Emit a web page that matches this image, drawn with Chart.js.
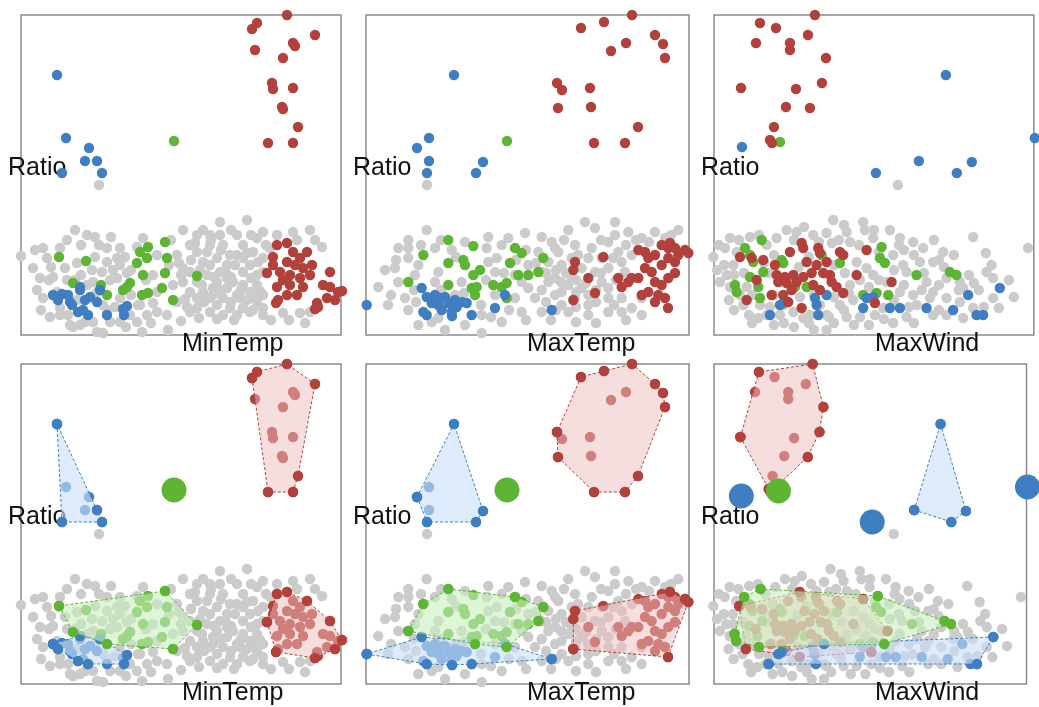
<!DOCTYPE html>
<html><head><meta charset="utf-8">
<script src="https://cdn.jsdelivr.net/npm/chart.js@4.4.1/dist/chart.umd.min.js"></script>
<style>
html,body{margin:0;padding:0;background:#fff;width:1039px;height:707px;overflow:hidden}
canvas{position:absolute;left:0;top:0}
</style></head><body>
<canvas id="c0" width="1039" height="707"></canvas>
<canvas id="c1" width="1039" height="707"></canvas>
<canvas id="c2" width="1039" height="707"></canvas>
<canvas id="c3" width="1039" height="707"></canvas>
<canvas id="c4" width="1039" height="707"></canvas>
<canvas id="c5" width="1039" height="707"></canvas>
<script>
// ---------- DATA: [x, Ratio] pairs ----------
const yLabel = 'Ratio';
const xLabels = ['MinTemp', 'MaxTemp', 'MaxWind'];

// MinTemp panel
const minTempGray = [[5.4,1.05],[6.6,1.00],[7.4,0.98],[8.6,0.87],[9.9,0.87],[11.6,0.88],[2.2,0.87],[1.4,0.85],[0.0,0.79],[2.6,0.77],[3.9,0.87],[7.4,0.78],[9.6,0.77],[4.4,0.67],[1.2,0.67],[1.9,0.57],[3.2,0.58],[7.1,0.65],[8.1,0.63],[9.2,0.65],[9.9,0.70],[9.6,0.57],[8.6,0.25],[6.4,0.13],[4.7,0.20],[3.9,0.20],[4.9,0.10],[8.2,0.02],[12.1,0.03],[14.7,0.05],[7.2,0.13],[8.9,0.13],[10.9,0.20],[11.9,0.30],[13.2,0.32],[13.6,0.43],[15.2,0.50],[16.2,0.53],[16.2,0.67],[15.6,0.80],[16.2,1.05],[17.6,1.00],[18.9,1.00],[19.9,1.13],[22.6,1.15],[20.2,0.90],[18.6,0.83],[19.6,0.77],[20.6,0.70],[21.6,0.80],[22.2,0.90],[23.6,0.97],[24.2,1.03],[23.2,0.83],[24.2,0.77],[22.2,0.63],[20.6,0.57],[19.6,0.53],[18.2,0.43],[18.9,0.37],[20.2,0.37],[21.6,0.40],[22.9,0.43],[23.6,0.33],[24.2,0.27],[22.2,0.27],[20.9,0.27],[19.6,0.30],[17.6,0.37],[16.9,0.63],[18.2,0.73],[17.6,0.83],[22.2,0.50],[23.6,0.60],[23.7,0.73],[27.2,1.03],[28.9,1.05],[29.4,0.95],[30.1,0.88],[27.6,0.95],[25.6,1.00],[26.2,0.22],[27.9,0.22],[28.9,0.23],[22.9,0.23],[16.9,0.23],[15.6,0.33],[14.6,0.20],[12.6,0.20],[13.6,0.23],[11.6,0.13],[9.9,0.13],[7.6,0.03],[5.9,0.10],[5.4,0.55],[5.6,0.72],[7.2,0.53],[8.9,0.55],[10.6,0.62],[9.9,0.37],[11.7,0.30],[2.9,0.18],[5.2,0.08],[18.9,0.70],[19.9,0.63],[21.2,0.53],[19.2,0.47],[20.6,0.47],[21.9,0.37],[17.6,0.53],[18.6,0.60],[20.9,0.80],[22.2,0.77],[22.9,0.70],[23.6,0.50],[24.2,0.40],[16.9,0.43],[18.9,0.90],[16.9,0.90],[21.6,1.00],[19.9,1.00],[23.2,0.37],[21.6,0.20],[20.2,0.20],[18.9,0.23],[24.2,0.20],[17.6,0.27],[24.9,0.87],[2.2,0.37],[3.6,0.43],[5.6,0.35],[7.6,0.43],[3.9,0.27],[6.6,0.50],[8.6,0.73],[13.2,0.60],[13.6,0.80],[24.2,0.63],[7.8,1.50],
  [17.0,0.75],[17.9,0.65],[19.3,0.58],[20.0,0.45],[21.0,0.33],[22.6,0.35],[23.0,0.57],[21.4,0.70],[20.0,0.85],[19.0,0.95],[17.4,0.92],[16.4,0.36],[15.8,0.72],[16.6,0.28],[18.3,0.33],[19.2,0.40],[22.0,0.45],[23.9,0.44],[24.5,0.90],[23.0,1.00],[21.0,1.05],[18.2,1.05],[15.0,0.95],[14.8,0.70],[16.0,0.60],[22.6,0.82],[21.0,0.58],[18.1,0.50],[20.5,0.62],[23.2,0.25],[21.3,0.15],[19.6,0.16],[17.8,0.17],[16.0,0.14],[13.0,0.12],[10.5,0.08],[25.0,0.15],[26.8,0.15],[28.4,0.12],[2.8,0.55],[1.6,0.45],[2.0,0.25],[4.6,0.55],[6.0,0.60],[3.0,0.68],[8.2,0.30],[9.4,0.28],[11.0,0.40],[12.5,0.55],[11.0,0.65],[10.4,0.78],[12.2,0.97],[9.0,0.98],[6.0,0.90],[4.6,0.95],[7.8,0.90]];
const minTempBlueHi = [[3.6,2.60],[4.5,1.97],[6.8,1.87],[6.4,1.74],[7.6,1.74],[8.1,1.62],[4.1,1.62]];
const minTempBlueLo = [[3.2,0.40],[4.1,0.41],[4.7,0.40],[5.1,0.30],[5.9,0.45],[6.4,0.35],[6.2,0.25],[6.9,0.38],[7.6,0.33],[6.7,0.20],[8.6,0.20],[10.2,0.26],[10.3,0.20],[4.9,0.33],[7.9,0.45],[3.7,0.35],[5.7,0.23],[10.6,0.29],[5.9,0.48]];
const minTempGreenHi = [[15.3,1.94]];
const minTempGreenLo = [[3.8,0.78],[6.5,0.74],[5.2,0.52],[8.0,0.50],[8.6,0.40],[10.6,0.48],[11.6,0.72],[12.7,0.88],[12.6,0.77],[14.4,0.93],[14.6,0.77],[14.4,0.62],[12.2,0.60],[12.7,0.42],[14.1,0.47],[15.2,0.35],[17.6,0.59],[12.1,0.40],[10.2,0.45],[10.9,0.52],[11.9,0.83]];
const minTempRedHi = [[23.6,3.12],[23.1,3.06],[26.6,3.20],[29.4,3.00],[27.2,2.92],[27.4,2.89],[23.4,2.85],[26.2,2.77],[25.1,2.52],[25.2,2.46],[27.2,2.47],[26.1,2.28],[26.2,2.26],[27.7,2.08],[24.7,1.92],[27.2,1.92]];
const minTempRedLo = [[25.6,0.90],[26.6,0.92],[27.2,0.83],[25.2,0.78],[26.6,0.73],[27.9,0.77],[28.2,0.67],[24.6,0.62],[25.9,0.63],[26.9,0.60],[27.9,0.57],[28.9,0.60],[25.6,0.48],[26.9,0.50],[28.2,0.48],[26.6,0.40],[25.7,0.35],[30.9,0.63],[30.2,0.50],[30.9,0.48],[31.7,0.43],[30.6,0.37],[31.4,0.35],[29.6,0.32],[29.7,0.28],[28.6,0.83],[29.1,0.70],[25.2,0.70],[27.6,0.40],[25.5,0.32],[29.4,0.26],[32.1,0.44],[26.2,0.55],[27.4,0.70]];

// MaxTemp panel
const maxTempGray = [[6.07,1.05],[4.23,0.95],[3.23,0.87],[1.9,0.65],[1.23,0.48],[2.9,0.67],[4.23,0.77],[3.23,0.53],[4.9,0.60],[3.9,0.37],[4.23,0.25],[6.9,0.87],[8.57,0.85],[9.9,0.93],[12.23,0.98],[12.07,0.87],[13.57,0.90],[13.07,0.77],[14.23,0.97],[15.9,1.02],[17.57,0.98],[18.57,0.93],[20.23,1.05],[21.9,1.13],[22.9,1.07],[24.9,1.13],[24.9,1.00],[26.23,1.03],[27.57,0.97],[28.9,1.03],[29.9,0.97],[31.23,1.05],[20.9,0.90],[22.57,0.87],[24.23,0.93],[19.23,0.83],[18.23,0.73],[19.57,0.70],[21.57,0.67],[22.9,0.63],[24.23,0.67],[25.57,0.73],[18.9,0.57],[20.23,0.50],[21.57,0.47],[24.23,0.47],[17.57,0.45],[18.9,0.40],[19.57,0.30],[22.23,0.30],[24.23,0.37],[25.57,0.37],[24.23,0.23],[26.57,0.27],[27.57,0.20],[22.23,0.20],[14.9,0.37],[15.57,0.23],[13.57,0.13],[11.57,0.20],[9.9,0.10],[7.9,0.05],[11.57,0.02],[6.57,0.13],[5.23,0.10],[7.23,0.17],[4.23,0.87],[12.9,0.63],[16.23,0.47],[16.9,0.37],[16.23,0.70],[17.57,0.63],[18.9,0.87],[20.57,0.77],[23.57,0.77],[25.23,0.83],[25.9,0.63],[26.57,0.80],[7.23,0.63],[5.23,0.70],[18.23,0.53],[19.57,0.43],[20.9,0.37],[22.23,0.40],[23.57,0.53],[20.57,0.57],[22.23,0.77],[17.23,0.83],[14.9,0.60],[15.57,0.53],[12.9,0.40],[12.23,0.73],[9.57,0.53],[6.9,0.53],[8.9,0.40],[17.57,0.23],[20.23,0.23],[25.57,0.23],[27.57,0.37],[6.1,1.50],
  [18.0,0.62],[19.0,0.65],[20.0,0.62],[21.0,0.55],[22.0,0.52],[23.0,0.45],[21.0,0.43],[19.5,0.53],[18.0,0.33],[19.0,0.25],[21.0,0.28],[23.0,0.33],[24.8,0.30],[23.5,0.62],[25.0,0.55],[24.7,0.77],[21.2,0.80],[19.8,0.95],[23.5,0.95],[17.0,0.72],[16.0,0.85],[15.0,0.75],[13.8,0.62],[12.0,0.55],[11.5,0.30],[12.5,0.18],[14.3,0.25],[16.0,0.15],[18.5,0.15],[21.0,0.13],[23.0,0.12],[26.0,0.15],[2.5,0.40],[3.0,0.75],[5.5,0.90],[7.5,0.95],[9.0,0.78],[7.5,0.45],[9.8,0.42],[4.8,0.45],[2.2,0.30],[5.0,0.33],[27.0,0.95],[26.0,0.90],[28.3,0.93],[30.5,1.00]];
const maxTempBlueHi = [[8.8,2.60],[6.3,1.97],[5.1,1.87],[6.3,1.74],[11.7,1.73],[6.1,1.62],[11.0,1.62]];
const maxTempBlueLo = [[0.07,0.30],[5.57,0.47],[6.07,0.38],[6.9,0.40],[7.4,0.37],[7.9,0.38],[7.23,0.30],[8.23,0.32],[8.9,0.35],[9.57,0.33],[10.07,0.32],[8.57,0.23],[7.57,0.25],[5.73,0.23],[6.07,0.20],[10.57,0.20],[12.9,0.27],[13.9,0.40],[18.57,0.25],[6.57,0.32],[9.07,0.28],[8.6,0.19]];
const maxTempGreenHi = [[14.1,1.94]];
const maxTempGreenLo = [[8.23,0.95],[10.73,0.89],[5.73,0.80],[8.23,0.72],[9.73,0.75],[9.9,0.70],[11.4,0.65],[10.73,0.60],[4.23,0.53],[8.23,0.50],[10.57,0.47],[11.07,0.48],[10.9,0.40],[12.73,0.50],[14.07,0.52],[14.07,0.37],[14.9,0.87],[15.57,0.82],[14.4,0.72],[15.23,0.60],[16.23,0.60],[17.23,0.63],[17.73,0.77],[13.57,0.48]];
const maxTempRedHi = [[26.6,3.20],[23.8,3.13],[21.5,3.07],[28.9,3.00],[26.0,2.92],[29.7,2.91],[24.5,2.84],[29.9,2.77],[19.1,2.52],[19.6,2.45],[22.4,2.47],[19.2,2.27],[22.5,2.28],[27.2,2.08],[22.8,1.92],[25.9,1.92]];
const maxTempRedLo = [[23.73,0.78],[20.9,0.73],[20.73,0.65],[22.23,0.57],[22.9,0.42],[20.73,0.35],[25.23,0.57],[25.57,0.48],[26.23,0.53],[27.23,0.85],[27.9,0.83],[28.23,0.77],[28.9,0.80],[29.57,0.90],[30.23,0.87],[30.9,0.87],[31.9,0.85],[32.23,0.82],[27.9,0.67],[28.57,0.63],[29.57,0.70],[30.23,0.77],[30.9,0.73],[28.9,0.53],[29.57,0.50],[30.23,0.57],[30.9,0.62],[29.23,0.40],[29.9,0.37],[30.2,0.27],[27.57,0.40],[27.23,0.57],[28.23,0.43],[26.57,0.57],[28.9,0.33],[31.23,0.80],[30.4,0.92]];

// MaxWind panel
const maxWindGray = [[11.93,1.15],[14.93,1.13],[15.1,1.05],[13.27,1.03],[11.27,1.02],[7.27,1.05],[8.27,1.03],[3.6,0.98],[1.6,0.97],[1.1,0.87],[-0.07,0.78],[1.93,0.70],[1.27,0.60],[1.6,0.48],[2.6,0.40],[2.93,0.30],[4.6,0.30],[4.43,0.17],[5.6,0.28],[7.93,0.23],[8.93,0.17],[11.27,0.05],[13.27,0.18],[11.27,0.20],[14.6,0.18],[16.1,0.20],[17.93,0.12],[19.27,0.18],[21.93,0.20],[23.27,0.20],[24.93,0.17],[25.93,0.27],[17.6,1.05],[18.6,0.97],[19.93,0.93],[20.93,0.87],[22.93,0.83],[25.93,0.98],[27.77,0.70],[27.93,0.57],[27.27,0.63],[31.43,0.87],[21.93,0.73],[20.6,0.73],[18.93,0.70],[23.27,0.57],[24.6,0.53],[24.93,0.47],[21.93,0.43],[19.93,0.40],[18.6,0.43],[17.27,0.53],[14.27,0.73],[13.6,0.93],[15.93,0.97],[9.93,1.00],[6.27,0.97],[5.27,0.90],[2.27,0.83],[0.6,0.53],[3.27,0.48],[13.6,0.50],[14.6,0.55],[15.93,0.60],[21.27,0.53],[23.27,0.37],[19.27,0.63],[17.93,0.80],[15.27,0.67],[13.1,0.62],[8.6,0.38],[12.6,0.30],[13.93,0.35],[10.6,0.30],[5.27,0.20],[6.6,0.20],[9.6,0.20],[20.27,0.30],[21.6,0.37],[24.6,0.33],[16.93,0.27],[27.93,0.37],[1.0,0.70],[2.0,0.60],[1.5,0.35],[3.5,0.20],[6.0,0.10],[8.0,0.08],[9.5,0.12],[12.0,0.12],[14.0,0.10],[17.0,0.16],[20.0,0.12],[22.5,0.25],[19.0,0.50],[21.0,0.62],[23.0,0.68],[25.5,0.60],[26.5,0.45],[27.0,0.28],[28.5,0.27],[12.5,0.95],[10.5,0.93],[14.5,0.90],[16.5,0.83],[19.0,0.85],[22.0,0.95],[24.0,0.80],[18.4,1.50],
  [2.0,0.25],[3.8,0.40],[3.0,0.62],[5.5,0.62],[6.0,0.80],[8.0,0.95],[9.5,0.78],[11.8,0.92],[12.0,0.70],[13.5,0.42],[12.0,0.38],[10.0,0.40],[7.0,0.30],[6.0,0.40],[5.0,0.72],[8.5,0.68],[11.5,0.18],[13.0,0.25],[15.5,0.48],[16.5,0.55],[18.0,0.65],[18.0,0.35],[19.5,0.28],[20.8,0.45],[22.5,0.50],[22.5,0.75],[20.0,0.80],[18.5,0.90],[16.0,1.05],[13.0,1.10],[9.0,1.08],[4.5,1.00],[2.5,0.95],[0.5,0.90],[0.3,0.65],[3.8,0.12],[7.0,0.12],[10.0,0.05],[15.5,0.10],[24.5,0.45],[26.0,0.52],[29.5,0.55],[30.0,0.38],[27.2,0.82]];
const maxWindBlueHi = [[23.2,2.60],[20.5,1.74],[25.8,1.73],[24.3,1.62]];
const maxWindBlueSolo = [[2.8,1.88],[16.2,1.62],[32.1,1.97]];
const maxWindBlueLo = [[5.6,0.20],[6.6,0.30],[10.1,0.37],[10.27,0.30],[10.43,0.20],[11.27,0.40],[14.93,0.27],[15.27,0.37],[15.93,0.38],[17.6,0.27],[18.6,0.27],[21.27,0.27],[23.93,0.25],[25.43,0.40],[26.27,0.20],[26.93,0.20],[28.6,0.47],[6.93,0.32]];
const maxWindGreenHi = [[6.6,1.93]];
const maxWindGreenLo = [[4.77,0.95],[3.1,0.87],[3.6,0.80],[3.93,0.73],[6.77,0.75],[6.93,0.72],[2.1,0.50],[2.27,0.43],[4.43,0.48],[4.93,0.63],[4.6,0.37],[3.6,0.58],[10.77,0.80],[12.6,0.72],[16.77,0.88],[16.6,0.77],[17.1,0.72],[20.27,0.60],[23.6,0.63],[24.27,0.60],[14.93,0.40],[16.27,0.42],[17.43,0.40],[9.27,0.48],[8.1,0.48]];
const maxWindRedHi = [[10.1,3.20],[4.6,3.12],[6.2,3.07],[9.4,3.00],[4.2,2.92],[7.6,2.92],[7.6,2.85],[11.2,2.77],[2.7,2.47],[8.2,2.46],[10.8,2.52],[7.2,2.28],[9.6,2.27],[6.0,2.08],[5.8,1.92],[5.6,1.95]];
const maxWindRedLo = [[2.6,0.78],[3.77,0.77],[4.93,0.75],[6.1,0.70],[7.6,0.83],[8.77,0.92],[8.93,0.87],[10.43,0.87],[10.6,0.82],[12.6,0.83],[12.93,0.80],[15.27,0.85],[9.27,0.73],[10.27,0.70],[11.27,0.73],[6.27,0.60],[7.1,0.58],[7.93,0.60],[8.93,0.58],[9.77,0.62],[10.93,0.62],[11.6,0.60],[14.27,0.60],[12.27,0.48],[12.93,0.42],[6.43,0.53],[7.27,0.52],[8.27,0.53],[9.93,0.50],[10.6,0.45],[5.77,0.40],[6.93,0.40],[7.43,0.33],[3.27,0.35],[8.77,0.27],[4.27,0.55],[17.77,0.53],[16.1,0.32],[11.77,0.53],[7.77,0.45]];

// ---------- STYLE ----------
const COL = {gray:'#cbcbcb', blue:'#3f7fc1', green:'#5db533', red:'#b3413b'};
const FILL = {blue:'rgba(200,222,248,0.62)', green:'rgba(200,238,190,0.6)', red:'rgba(240,190,190,0.5)'};
const W = 1039, H = 707, PR = 5.2;

const cols = [
  {label:xLabels[0], xMax:32.0, L:21, R:341, gray:minTempGray,
   groups:{green:[minTempGreenHi, minTempGreenLo], blue:[minTempBlueHi, minTempBlueLo], red:[minTempRedHi, minTempRedLo]}},
  {label:xLabels[1], xMax:32.3, L:366, R:689, gray:maxTempGray,
   groups:{green:[maxTempGreenHi, maxTempGreenLo], blue:[maxTempBlueHi, maxTempBlueLo], red:[maxTempRedHi, maxTempRedLo]}},
  {label:xLabels[2], xMax:32.0, L:714, R:1034, gray:maxWindGray,
   groups:{green:[maxWindGreenHi, maxWindGreenLo], blue:[maxWindBlueHi, ...maxWindBlueSolo.map(p=>[p]), maxWindBlueLo], red:[maxWindRedHi, maxWindRedLo]}}
];
const rows = [{T:15, B:335, hull:false}, {T:364, B:684, hull:true}];

const toXY = arr => arr.map(([x,y]) => ({x, y}));

function convexHull(pts){
  const p = pts.slice().sort((a,b)=>a[0]-b[0]||a[1]-b[1]);
  const cr = (o,a,b)=>(a[0]-o[0])*(b[1]-o[1])-(a[1]-o[1])*(b[0]-o[0]);
  const lo=[], up=[];
  for (const q of p){ while(lo.length>=2 && cr(lo[lo.length-2],lo[lo.length-1],q)<=0) lo.pop(); lo.push(q); }
  for (let i=p.length-1;i>=0;i--){ const q=p[i]; while(up.length>=2 && cr(up[up.length-2],up[up.length-1],q)<=0) up.pop(); up.push(q); }
  lo.pop(); up.pop();
  return lo.concat(up);
}

const framePlugin = {
  id:'frame',
  beforeDatasetsDraw(chart, args, opts){
    const {ctx, chartArea:a} = chart;
    ctx.save();
    ctx.strokeStyle = '#8a8a8a';
    ctx.lineWidth = 1.5;
    ctx.strokeRect(a.left, a.top, a.right-a.left, a.bottom-a.top);
    ctx.fillStyle = '#111';
    ctx.font = '25px "Liberation Sans", Arial, sans-serif';
    ctx.textBaseline = 'alphabetic';
    ctx.fillText(yLabel, a.left-13, a.top+160);
    ctx.fillText(opts.xLabel, a.left+161, a.bottom+16);
    ctx.restore();
  }
};

const order = ['green','blue','red'];
let idx = 0;
rows.forEach(row => {
  cols.forEach(col => {
    const ds = [];
    ds.push({data: toXY(col.gray), pointRadius:PR, pointBackgroundColor:COL.gray, pointBorderWidth:0, order:20});
    order.forEach((c, k) => {
      const all = [].concat(...col.groups[c]);
      ds.push({data: toXY(all), pointRadius:PR, pointBackgroundColor:COL[c], pointBorderWidth:0, order:19-k});
    });
    if (row.hull){
      order.forEach(c => {
        col.groups[c].forEach(g => {
          if (g.length === 1){
            ds.push({data: toXY(g), pointRadius:12.5, pointBackgroundColor:COL[c], pointBorderWidth:0, order:3});
          } else {
            const h = convexHull(g);
            const closed = h.concat([h[0]]);
            ds.push({data: toXY(closed), showLine:true, fill:'shape', backgroundColor:FILL[c],
              borderColor:COL[c], borderWidth:1, borderDash:[3,2], pointRadius:PR,
              pointBackgroundColor:COL[c], pointBorderWidth:0, tension:0, order:5});
          }
        });
      });
    }
    ds.forEach(d => { d.clip = false; d.pointHoverRadius = d.pointRadius; });
    new Chart(document.getElementById('c'+idx), {
      type:'scatter',
      data:{datasets:ds},
      options:{
        responsive:false, animation:false, devicePixelRatio:1, events:[],
        layout:{padding:{left:col.L, right:W-col.R, top:row.T, bottom:H-row.B}},
        scales:{
          x:{type:'linear', min:0, max:col.xMax, display:false},
          y:{type:'linear', min:0, max:3.2, display:false}
        },
        plugins:{legend:{display:false}, tooltip:{enabled:false}, frame:{xLabel:col.label}}
      },
      plugins:[framePlugin]
    });
    idx++;
  });
});
</script>
</body></html>
